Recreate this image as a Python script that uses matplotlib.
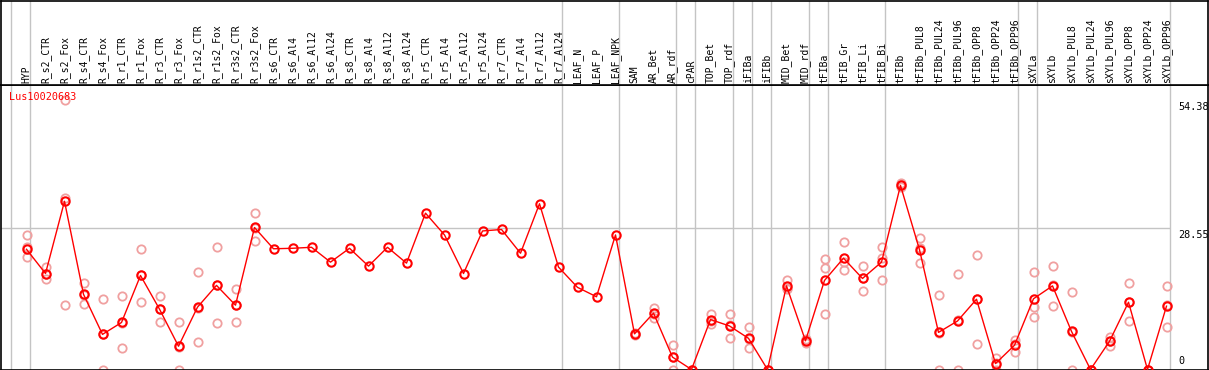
import matplotlib

matplotlib.use("Agg")

import matplotlib.pyplot as plt
import matplotlib.transforms as mtransforms
import numpy as np

nan = np.nan

labels = [
    "HYP", "R_s2_CTR", "R_s2_Fox", "R_s4_CTR", "R_s4_Fox", "R_r1_CTR", "R_r1_Fox",
    "R_r3_CTR", "R_r3_Fox", "R_r1s2_CTR", "R_r1s2_Fox", "R_r3s2_CTR", "R_r3s2_Fox",
    "R_s6_CTR", "R_s6_Al4", "R_s6_Al12", "R_s6_Al24", "R_s8_CTR", "R_s8_Al4",
    "R_s8_Al12", "R_s8_Al24", "R_r5_CTR", "R_r5_Al4", "R_r5_Al12", "R_r5_Al24",
    "R_r7_CTR", "R_r7_Al4", "R_r7_Al12", "R_r7_Al24", "LEAF_N", "LEAF_P", "LEAF_NPK",
    "SAM", "AR_Bet", "AR_rdf", "cPAR", "TOP_Bet", "TOP_rdf", "iFIBa", "iFIBb",
    "MID_Bet", "MID_rdf", "tFIBa", "tFIB_Gr", "tFIB_Li", "tFIB_Bi", "tFIBb",
    "tFIBb_PUL8", "tFIBb_PUL24", "tFIBb_PUL96", "tFIBb_OPP8", "tFIBb_OPP24",
    "tFIBb_OPP96", "sXYLa", "sXYLb", "sXYLb_PUL8", "sXYLb_PUL24", "sXYLb_PUL96",
    "sXYLb_OPP8", "sXYLb_OPP24", "sXYLb_OPP96",
]

means = [
    24.3, 19.4, 34.0, 15.2, 7.1, 9.5, 19.0, 12.2, 4.7, 12.6, 17.0, 13.0, 28.7,
    24.4, 24.5, 24.7, 21.7, 24.5, 20.9, 24.7, 21.5, 31.6, 27.2, 19.4, 28.0,
    28.3, 23.5, 33.5, 20.7, 16.6, 14.7, 27.2,
    7.2, 11.4, 2.5, 0.0, 10.1, 8.8, 6.3, 0.0, 16.9, 5.8, 18.0, 22.5, 18.4, 21.7,
    37.2, 24.2, 7.5, 9.8, 14.2, 1.2, 4.9, 14.3, 16.9, 7.7, 0.0, 5.7, 13.6, 0.0, 12.8,
]

rep1 = [
    27.2, 20.7, 54.38, 17.4, 14.2, 14.8, 24.3, 14.8, 9.5, 19.8, 24.7, 16.2, 31.6,
    nan, nan, nan, nan, nan, nan, nan, nan, nan, nan, nan, nan,
    nan, nan, nan, nan, nan, nan, nan,
    7.4, 12.5, 5.0, 0.0, 11.2, 11.2, 8.5, 0.0, 18.0, 6.2, 22.3, 25.7, 21.0, 24.7,
    37.6, 26.6, 15.1, 19.4, 23.1, 2.3, 6.0, 19.7, 20.9, 15.6, 0.0, 6.6, 17.4, 0.0, 16.8,
]
rep2 = [
    24.7, 19.3, 34.6, 15.0, 7.1, 9.4, 19.1, 12.3, 4.6, 12.5, 17.0, 13.1, 28.6,
    nan, nan, nan, nan, nan, nan, nan, nan, nan, nan, nan, nan,
    nan, nan, nan, nan, nan, nan, nan,
    7.0, 11.3, 2.5, 0.0, 9.9, 8.9, 6.1, 0.0, 16.4, 5.9, 20.5, 21.7, 18.4, 22.5,
    37.2, 24.5, 7.4, 10.0, 14.3, 1.3, 5.1, 12.6, 17.0, 7.5, 0.0, 5.7, 13.6, 0.0, 13.1,
]
rep3 = [
    22.7, 18.2, 13.0, 13.2, 0.0, 4.3, 13.6, 9.5, 0.0, 5.5, 9.3, 9.7, 25.9,
    nan, nan, nan, nan, nan, nan, nan, nan, nan, nan, nan, nan,
    nan, nan, nan, nan, nan, nan, nan,
    7.2, 10.4, 0.0, 0.0, 9.2, 6.3, 4.3, 0.0, 16.3, 5.3, 11.3, 20.1, 15.8, 18.0,
    36.9, 21.5, 0.0, 0.0, 5.2, 0.0, 3.6, 10.6, 12.8, 0.0, 0.0, 4.8, 9.9, 0.0, 8.5,
]

# group separators sit just right of these columns
separators = [-1, 0, 28, 31, 34, 35, 37, 38, 39, 41, 42, 45, 52, 53, 60]
y_ticks = [54.38, 28.55, 0]

W, H = 1209, 370
fig = plt.figure(figsize=(W / 100, H / 100), dpi=100)
ax = fig.add_axes([1 / W, 0.5 / H, 1207 / W, 284.5 / H])
axh = fig.add_axes([1 / W, 285 / H, 1207 / W, 84.5 / H], sharex=ax)

x = np.arange(len(labels))
xmin, xmax = (1 - 26.5) / 19, (1208 - 26.5) / 19
ax.set_xlim(xmin, xmax)
ax.set_ylim(0, 57.5)
axh.set_ylim(0, 1)

grid = "#c4c4c4"
for s in separators:
    for a in (ax, axh):
        a.axvline(s + 0.2, color=grid, lw=1, zorder=0)
ax.hlines(28.55, xmin, 60.2, color=grid, lw=1, zorder=0)

pale = "#f0a0a0"
for rep in (rep1, rep2, rep3):
    ax.plot(x, rep, ls="none", marker="o", ms=6, mfc="none", mec=pale, mew=1.3,
            clip_on=False, zorder=2)
ax.plot(x, means, color="red", lw=1, marker="o", ms=6, mfc="none", mec="red",
        mew=1.5, clip_on=False, zorder=3)

mono = "DejaVu Sans Mono"
trans = mtransforms.blended_transform_factory(axh.transData, axh.transAxes)
for i, lab in enumerate(labels):
    axh.text(i, 0.025, lab, rotation=90, ha="center", va="bottom",
             fontsize=7, family=mono, transform=trans)

fig.text(9 / W, 1 - 97 / H, "Lus10020683", color="red", fontsize=7.3,
         family=mono, va="center", ha="left")

for v in y_ticks:
    if v == 0:
        ax.annotate("0", (60.6, v), xytext=(0, 4), textcoords="offset pixels",
                    ha="left", va="bottom", fontsize=7.3, family=mono)
    else:
        ax.annotate(f"{v:.2f}", (60.6, v), xytext=(0, -2), textcoords="offset pixels",
                    ha="left", va="top", fontsize=7.3, family=mono)

for a in (ax, axh):
    a.set_xticks([])
    a.set_yticks([])
    for sp in a.spines.values():
        sp.set_color("black")
        sp.set_linewidth(1.2)

fig.savefig("out.png", dpi=100, facecolor="white")
plt.close(fig)
